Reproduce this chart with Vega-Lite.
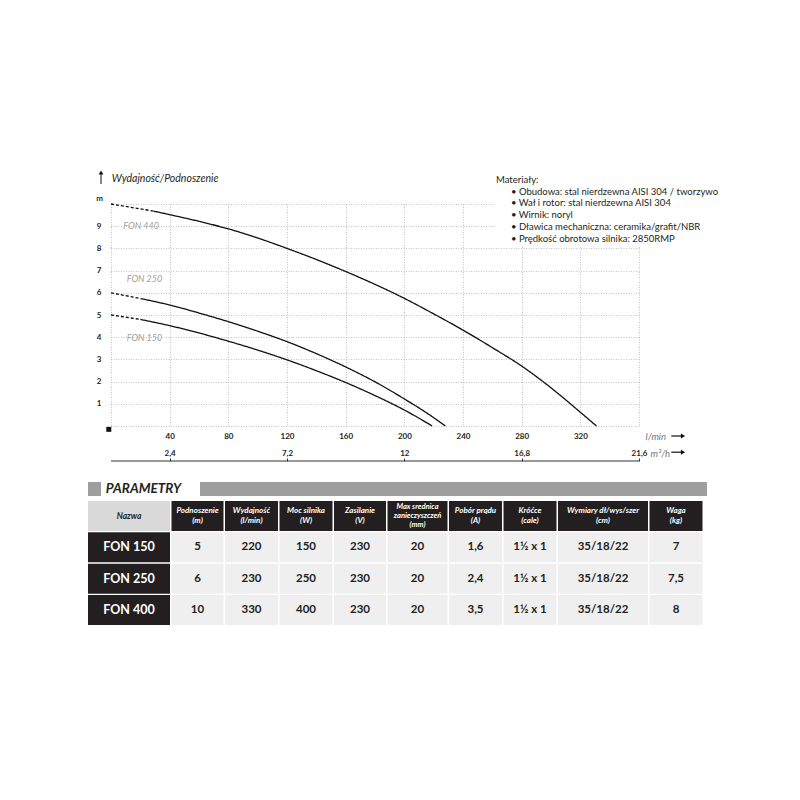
{
  "$schema": "https://vega.github.io/schema/vega-lite/v6.json",
  "background": "white",
  "padding": {"left": 88, "top": 170, "right": 0, "bottom": 0},
  "autosize": {"type": "pad"},
  "config": {
    "font": "Lato",
    "view": {"stroke": null}
  },
  "datasets": {
    "curves": [
      {"model": "FON 440", "seg": "dashed", "q": 0, "h": 10},
      {"model": "FON 440", "seg": "dashed", "q": 29, "h": 9.68},
      {"model": "FON 440", "seg": "solid", "q": 29, "h": 9.68},
      {"model": "FON 440", "seg": "solid", "q": 40, "h": 9.52},
      {"model": "FON 440", "seg": "solid", "q": 60, "h": 9.22},
      {"model": "FON 440", "seg": "solid", "q": 80, "h": 8.88},
      {"model": "FON 440", "seg": "solid", "q": 100, "h": 8.47},
      {"model": "FON 440", "seg": "solid", "q": 120, "h": 8.0},
      {"model": "FON 440", "seg": "solid", "q": 140, "h": 7.5},
      {"model": "FON 440", "seg": "solid", "q": 160, "h": 6.96},
      {"model": "FON 440", "seg": "solid", "q": 180, "h": 6.38},
      {"model": "FON 440", "seg": "solid", "q": 200, "h": 5.75},
      {"model": "FON 440", "seg": "solid", "q": 220, "h": 5.05},
      {"model": "FON 440", "seg": "solid", "q": 240, "h": 4.32},
      {"model": "FON 440", "seg": "solid", "q": 260, "h": 3.53},
      {"model": "FON 440", "seg": "solid", "q": 280, "h": 2.7},
      {"model": "FON 440", "seg": "solid", "q": 300, "h": 1.72},
      {"model": "FON 440", "seg": "solid", "q": 320, "h": 0.62},
      {"model": "FON 440", "seg": "solid", "q": 331, "h": 0},
      {"model": "FON 250", "seg": "dashed", "q": 0, "h": 6.0},
      {"model": "FON 250", "seg": "dashed", "q": 21, "h": 5.73},
      {"model": "FON 250", "seg": "solid", "q": 21, "h": 5.73},
      {"model": "FON 250", "seg": "solid", "q": 40, "h": 5.45},
      {"model": "FON 250", "seg": "solid", "q": 60, "h": 5.09},
      {"model": "FON 250", "seg": "solid", "q": 80, "h": 4.7},
      {"model": "FON 250", "seg": "solid", "q": 100, "h": 4.27},
      {"model": "FON 250", "seg": "solid", "q": 120, "h": 3.8},
      {"model": "FON 250", "seg": "solid", "q": 140, "h": 3.26},
      {"model": "FON 250", "seg": "solid", "q": 160, "h": 2.66},
      {"model": "FON 250", "seg": "solid", "q": 180, "h": 1.99},
      {"model": "FON 250", "seg": "solid", "q": 200, "h": 1.22},
      {"model": "FON 250", "seg": "solid", "q": 215, "h": 0.6},
      {"model": "FON 250", "seg": "solid", "q": 228, "h": 0},
      {"model": "FON 150", "seg": "dashed", "q": 0, "h": 5.0},
      {"model": "FON 150", "seg": "dashed", "q": 20, "h": 4.8},
      {"model": "FON 150", "seg": "solid", "q": 20, "h": 4.8},
      {"model": "FON 150", "seg": "solid", "q": 40, "h": 4.52},
      {"model": "FON 150", "seg": "solid", "q": 60, "h": 4.19},
      {"model": "FON 150", "seg": "solid", "q": 80, "h": 3.82},
      {"model": "FON 150", "seg": "solid", "q": 100, "h": 3.42},
      {"model": "FON 150", "seg": "solid", "q": 120, "h": 2.98},
      {"model": "FON 150", "seg": "solid", "q": 140, "h": 2.49},
      {"model": "FON 150", "seg": "solid", "q": 160, "h": 1.96},
      {"model": "FON 150", "seg": "solid", "q": 180, "h": 1.37},
      {"model": "FON 150", "seg": "solid", "q": 200, "h": 0.72},
      {"model": "FON 150", "seg": "solid", "q": 219, "h": 0}
    ],
    "labels": [
      {"name": "FON 440", "q": 8.4, "h": 9.02},
      {"name": "FON 250", "q": 10.7, "h": 6.62},
      {"name": "FON 150", "q": 10.7, "h": 3.98}
    ],
    "cells": [
      {"r": 0, "c": "Nazwa", "t": "Nazwa"},
      {"r": 0, "c": "Podnoszenie", "t": "Podnoszenie\n(m)"},
      {"r": 0, "c": "Wydajnosc", "t": "Wydajność\n(l/min)"},
      {"r": 0, "c": "Moc", "t": "Moc silnika\n(W)"},
      {"r": 0, "c": "Zasilanie", "t": "Zasilanie\n(V)"},
      {"r": 0, "c": "Srednica", "t": "Max srednica\nzanieczyszczeń\n(mm)"},
      {"r": 0, "c": "Pobor", "t": "Pobór prądu\n(A)"},
      {"r": 0, "c": "Krocce", "t": "Króćce\n(cale)"},
      {"r": 0, "c": "Wymiary", "t": "Wymiary dł/wys/szer\n(cm)"},
      {"r": 0, "c": "Waga", "t": "Waga\n(kg)"},
      {"r": 1, "c": "Nazwa", "t": "FON 150"},
      {"r": 1, "c": "Podnoszenie", "t": "5"},
      {"r": 1, "c": "Wydajnosc", "t": "220"},
      {"r": 1, "c": "Moc", "t": "150"},
      {"r": 1, "c": "Zasilanie", "t": "230"},
      {"r": 1, "c": "Srednica", "t": "20"},
      {"r": 1, "c": "Pobor", "t": "1,6"},
      {"r": 1, "c": "Krocce", "t": "1½ x 1"},
      {"r": 1, "c": "Wymiary", "t": "35/18/22"},
      {"r": 1, "c": "Waga", "t": "7"},
      {"r": 2, "c": "Nazwa", "t": "FON 250"},
      {"r": 2, "c": "Podnoszenie", "t": "6"},
      {"r": 2, "c": "Wydajnosc", "t": "230"},
      {"r": 2, "c": "Moc", "t": "250"},
      {"r": 2, "c": "Zasilanie", "t": "230"},
      {"r": 2, "c": "Srednica", "t": "20"},
      {"r": 2, "c": "Pobor", "t": "2,4"},
      {"r": 2, "c": "Krocce", "t": "1½ x 1"},
      {"r": 2, "c": "Wymiary", "t": "35/18/22"},
      {"r": 2, "c": "Waga", "t": "7,5"},
      {"r": 3, "c": "Nazwa", "t": "FON 400"},
      {"r": 3, "c": "Podnoszenie", "t": "10"},
      {"r": 3, "c": "Wydajnosc", "t": "330"},
      {"r": 3, "c": "Moc", "t": "400"},
      {"r": 3, "c": "Zasilanie", "t": "230"},
      {"r": 3, "c": "Srednica", "t": "20"},
      {"r": 3, "c": "Pobor", "t": "3,5"},
      {"r": 3, "c": "Krocce", "t": "1½ x 1"},
      {"r": 3, "c": "Wymiary", "t": "35/18/22"},
      {"r": 3, "c": "Waga", "t": "8"}
    ]
  },
  "spacing": 20,
  "vconcat": [
    {
      "width": 551,
      "height": 222,
      "resolve": {"axis": {"x": "independent", "y": "independent"}},
      "layer": [
        {
          "data": {"name": "curves"},
          "mark": {"type": "line", "interpolate": "monotone", "color": "#111111", "strokeWidth": 1.3},
          "encoding": {
            "x": {
              "field": "q", "type": "quantitative",
              "scale": {"domain": [-15.68, 360], "nice": false, "zero": false},
              "axis": {
                "values": [0, 40, 80, 120, 160, 200, 240, 280, 320, 360],
                "labelExpr": "datum.value == 0 || datum.value == 360 ? '' : datum.label",
                "grid": true, "gridDash": [1, 1.5], "gridColor": "#a9a9a9", "gridWidth": 0.7,
                "domain": false, "ticks": false, "labelPadding": 6,
                "labelFlush": false, "labelOverlap": false,
                "labelFontSize": 8, "labelFontWeight": "bold", "labelColor": "#231f20",
                "title": "l/min", "titleFontStyle": "italic", "titleFontWeight": "normal",
                "titleFontSize": 9.5, "titleColor": "#777777",
                "titleX": 557, "titleY": 10, "titleAlign": "left", "titleBaseline": "middle", "titleAngle": 0
              }
            },
            "y": {
              "field": "h", "type": "quantitative",
              "scale": {"domain": [0, 10], "nice": false, "zero": false},
              "axis": {
                "values": [0, 1, 2, 3, 4, 5, 6, 7, 8, 9, 10],
                "tickCount": 11,
                "grid": true, "gridDash": [1, 1.5], "gridColor": "#a9a9a9", "gridWidth": 0.7,
                "domain": false, "ticks": false, "labels": false, "title": null
              }
            },
            "detail": {"field": "model"},
            "strokeDash": {
              "field": "seg", "type": "nominal",
              "scale": {"domain": ["solid", "dashed"], "range": [[1, 0], [3, 2]]},
              "legend": null
            }
          }
        },
        {
          "data": {"values": [{}]},
          "mark": {"type": "rect", "fill": "white"},
          "encoding": {
            "x": {"datum": -15.68, "axis": null},
            "x2": {"datum": -0.35},
            "y": {"datum": -0.3, "axis": null},
            "y2": {"datum": 10.3}
          }
        },
        {
          "data": {"values": []},
          "mark": "rule",
          "encoding": {
            "x": {
              "field": "q", "type": "quantitative",
              "scale": {"domain": [-15.68, 360], "nice": false, "zero": false},
              "axis": {
                "orient": "bottom", "offset": 35,
                "values": [40, 120, 200, 280, 360],
                "labelExpr": "replace(format(datum.value * 0.06, '.1~f'), '.', ',')",
                "grid": false, "domain": false,
                "ticks": true, "tickSize": -3, "tickColor": "#333333",
                "labelPadding": -5, "labelBaseline": "middle",
                "labelFlush": false, "labelOverlap": false,
                "labelFontSize": 8, "labelFontWeight": "bold", "labelColor": "#231f20",
                "title": "m³/h", "titleFontStyle": "italic", "titleFontWeight": "normal",
                "titleFontSize": 9.5, "titleColor": "#777777",
                "titleX": 562, "titleY": -8, "titleAlign": "left", "titleBaseline": "middle", "titleAngle": 0
              }
            },
            "y": {
              "field": "h", "type": "quantitative",
              "scale": {"domain": [0, 10], "nice": false, "zero": false},
              "axis": {
                "orient": "left", "zindex": 1,
                "values": [1, 2, 3, 4, 5, 6, 7, 8, 9],
                "grid": false, "domain": false, "ticks": false,
                "labelPadding": -13, "labelFlush": false, "labelOverlap": false,
                "labelFontSize": 8, "labelFontWeight": "bold", "labelColor": "#231f20",
                "title": "m", "titleAngle": 0, "titleX": 11, "titleY": -6,
                "titleAlign": "center", "titleBaseline": "middle",
                "titleFontSize": 8, "titleFontWeight": "bold", "titleColor": "#231f20"
              }
            }
          }
        },
        {
          "data": {"values": [{}]},
          "mark": {"type": "rule", "color": "#333333", "strokeWidth": 1},
          "encoding": {
            "x": {"datum": 0, "axis": null},
            "x2": {"datum": 360},
            "y": {"datum": -1.577, "axis": null}
          }
        },
        {
          "data": {"name": "labels"},
          "mark": {"type": "text", "align": "left", "baseline": "middle", "fontStyle": "italic", "fontSize": 9, "color": "#a0a0a0"},
          "encoding": {
            "x": {"field": "q", "type": "quantitative", "axis": null},
            "y": {"field": "h", "type": "quantitative", "axis": null},
            "text": {"field": "name"}
          }
        },
        {
          "data": {"values": [{}]},
          "mark": {"type": "rect", "fill": "white"},
          "encoding": {
            "x": {"datum": 262.5, "axis": null},
            "x2": {"datum": 362},
            "y": {"datum": 8.1, "axis": null},
            "y2": {"datum": 10.1}
          }
        },
        {
          "data": {"values": [{}]},
          "mark": {"type": "text", "text": "Materiały:", "align": "left", "baseline": "middle", "fontSize": 9.5, "color": "#231f20"},
          "encoding": {
            "x": {"datum": 262.5, "axis": null},
            "y": {"datum": 11.08, "axis": null}
          }
        },
        {
          "data": {"values": [{}]},
          "mark": {
            "type": "text",
            "text": [
              "•  Obudowa: stal nierdzewna AISI 304 / tworzywo",
              "•  Wał i rotor: stal nierdzewna AISI 304",
              "•  Wirnik: noryl",
              "•  Dławica mechaniczna: ceramika/grafit/NBR",
              "•  Prędkość obrotowa silnika: 2850RMP"
            ],
            "align": "left", "baseline": "middle", "fontSize": 9.5, "lineHeight": 11.7, "color": "#231f20"
          },
          "encoding": {
            "x": {"datum": 272.7, "axis": null},
            "y": {"datum": 10.55, "axis": null}
          }
        },
        {
          "data": {"values": [{}]},
          "mark": {"type": "text", "text": "Wydajność/Podnoszenie", "align": "left", "baseline": "middle", "fontStyle": "italic", "fontSize": 10.5, "color": "#231f20"},
          "encoding": {
            "x": {"datum": 0.5, "axis": null},
            "y": {"datum": 11.11, "axis": null}
          }
        },
        {
          "data": {"values": [{}]},
          "mark": {"type": "rule", "color": "#111111", "strokeWidth": 1},
          "encoding": {
            "x": {"datum": -6.8, "axis": null},
            "y": {"datum": 10.9, "axis": null},
            "y2": {"datum": 11.35}
          }
        },
        {
          "data": {"values": [{}]},
          "mark": {"type": "point", "shape": "triangle-up", "filled": true, "size": 22, "color": "#111111", "opacity": 1},
          "encoding": {
            "x": {"datum": -6.8, "axis": null},
            "y": {"datum": 11.42, "axis": null}
          }
        },
        {
          "data": {"values": [{}]},
          "mark": {"type": "rule", "color": "#111111", "strokeWidth": 1.2},
          "encoding": {
            "x": {"datum": 382, "axis": null},
            "x2": {"datum": 389},
            "y": {"datum": -0.45, "axis": null}
          }
        },
        {
          "data": {"values": [{}]},
          "mark": {"type": "point", "shape": "triangle-right", "filled": true, "size": 24, "color": "#111111", "opacity": 1},
          "encoding": {
            "x": {"datum": 390, "axis": null},
            "y": {"datum": -0.45, "axis": null}
          }
        },
        {
          "data": {"values": [{}]},
          "mark": {"type": "rule", "color": "#111111", "strokeWidth": 1.2},
          "encoding": {
            "x": {"datum": 382, "axis": null},
            "x2": {"datum": 389},
            "y": {"datum": -1.18, "axis": null}
          }
        },
        {
          "data": {"values": [{}]},
          "mark": {"type": "point", "shape": "triangle-right", "filled": true, "size": 24, "color": "#111111", "opacity": 1},
          "encoding": {
            "x": {"datum": 390, "axis": null},
            "y": {"datum": -1.18, "axis": null}
          }
        },
        {
          "data": {"values": [{}]},
          "mark": {"type": "point", "shape": "square", "filled": true, "size": 25, "color": "#111111", "opacity": 1},
          "encoding": {
            "x": {"datum": -1.5, "axis": null},
            "y": {"datum": -0.15, "axis": null}
          }
        }
      ]
    },
    {
      "spacing": 5,
      "vconcat": [
        {
          "spacing": 18,
          "hconcat": [
            {
              "spacing": 4,
              "hconcat": [
                {"width": 13, "height": 14, "data": {"values": []}, "mark": "rect", "view": {"fill": "#9e9e9e", "stroke": null}},
                {
                  "width": 75, "height": 14,
                  "data": {"values": [{"t": "PARAMETRY"}]},
                  "mark": {"type": "text", "fontSize": 13.5, "fontWeight": "bold", "fontStyle": "italic", "color": "#231f20", "baseline": "middle"},
                  "encoding": {"text": {"field": "t"}}
                }
              ]
            },
            {"width": 507, "height": 14, "data": {"values": []}, "mark": "rect", "view": {"fill": "#9e9e9e", "stroke": null}}
          ]
        },
        {
          "data": {"name": "cells"},
          "spacing": 1.5,
          "hconcat": [
            {
              "width": 82, "height": 124,
              "transform": [{"filter": "datum.c == 'Nazwa'"}],
              "encoding": {"y": {"field": "r", "type": "ordinal", "axis": null, "scale": {"domain": [0, 1, 2, 3], "paddingInner": 0.04, "paddingOuter": 0}}},
              "layer": [
                {"mark": "rect", "encoding": {"color": {"condition": {"test": "datum.r == 0", "value": "#d9d9d9"}, "value": "#231f20"}}},
                {"transform": [{"filter": "datum.r == 0"}], "mark": {"type": "text", "fontSize": 8.5, "fontWeight": "bold", "fontStyle": "italic", "color": "#231f20"}, "encoding": {"text": {"field": "t"}}},
                {"transform": [{"filter": "datum.r > 0"}], "mark": {"type": "text", "fontSize": 12.5, "fontWeight": "bold", "color": "white"}, "encoding": {"text": {"field": "t"}}}
              ]
            },
            {
              "width": 52, "height": 124,
              "transform": [{"filter": "datum.c == 'Podnoszenie'"}],
              "encoding": {"y": {"field": "r", "type": "ordinal", "axis": null, "scale": {"domain": [0, 1, 2, 3], "paddingInner": 0.04, "paddingOuter": 0}}},
              "layer": [
                {"mark": "rect", "encoding": {"color": {"condition": {"test": "datum.r == 0", "value": "#231f20"}, "value": "#efefef"}}},
                {"transform": [{"filter": "datum.r == 0"}], "mark": {"type": "text", "fontSize": 8, "fontWeight": "bold", "fontStyle": "italic", "color": "white", "lineBreak": "\n", "lineHeight": 9.5, "dy": -4.75}, "encoding": {"text": {"field": "t"}}},
                {"transform": [{"filter": "datum.r > 0"}], "mark": {"type": "text", "fontSize": 11.5, "fontWeight": "bold", "color": "#231f20"}, "encoding": {"text": {"field": "t"}}}
              ]
            },
            {
              "width": 53, "height": 124,
              "transform": [{"filter": "datum.c == 'Wydajnosc'"}],
              "encoding": {"y": {"field": "r", "type": "ordinal", "axis": null, "scale": {"domain": [0, 1, 2, 3], "paddingInner": 0.04, "paddingOuter": 0}}},
              "layer": [
                {"mark": "rect", "encoding": {"color": {"condition": {"test": "datum.r == 0", "value": "#231f20"}, "value": "#efefef"}}},
                {"transform": [{"filter": "datum.r == 0"}], "mark": {"type": "text", "fontSize": 8, "fontWeight": "bold", "fontStyle": "italic", "color": "white", "lineBreak": "\n", "lineHeight": 9.5, "dy": -4.75}, "encoding": {"text": {"field": "t"}}},
                {"transform": [{"filter": "datum.r > 0"}], "mark": {"type": "text", "fontSize": 11.5, "fontWeight": "bold", "color": "#231f20"}, "encoding": {"text": {"field": "t"}}}
              ]
            },
            {
              "width": 53, "height": 124,
              "transform": [{"filter": "datum.c == 'Moc'"}],
              "encoding": {"y": {"field": "r", "type": "ordinal", "axis": null, "scale": {"domain": [0, 1, 2, 3], "paddingInner": 0.04, "paddingOuter": 0}}},
              "layer": [
                {"mark": "rect", "encoding": {"color": {"condition": {"test": "datum.r == 0", "value": "#231f20"}, "value": "#efefef"}}},
                {"transform": [{"filter": "datum.r == 0"}], "mark": {"type": "text", "fontSize": 8, "fontWeight": "bold", "fontStyle": "italic", "color": "white", "lineBreak": "\n", "lineHeight": 9.5, "dy": -4.75}, "encoding": {"text": {"field": "t"}}},
                {"transform": [{"filter": "datum.r > 0"}], "mark": {"type": "text", "fontSize": 11.5, "fontWeight": "bold", "color": "#231f20"}, "encoding": {"text": {"field": "t"}}}
              ]
            },
            {
              "width": 52, "height": 124,
              "transform": [{"filter": "datum.c == 'Zasilanie'"}],
              "encoding": {"y": {"field": "r", "type": "ordinal", "axis": null, "scale": {"domain": [0, 1, 2, 3], "paddingInner": 0.04, "paddingOuter": 0}}},
              "layer": [
                {"mark": "rect", "encoding": {"color": {"condition": {"test": "datum.r == 0", "value": "#231f20"}, "value": "#efefef"}}},
                {"transform": [{"filter": "datum.r == 0"}], "mark": {"type": "text", "fontSize": 8, "fontWeight": "bold", "fontStyle": "italic", "color": "white", "lineBreak": "\n", "lineHeight": 9.5, "dy": -4.75}, "encoding": {"text": {"field": "t"}}},
                {"transform": [{"filter": "datum.r > 0"}], "mark": {"type": "text", "fontSize": 11.5, "fontWeight": "bold", "color": "#231f20"}, "encoding": {"text": {"field": "t"}}}
              ]
            },
            {
              "width": 60, "height": 124,
              "transform": [{"filter": "datum.c == 'Srednica'"}],
              "encoding": {"y": {"field": "r", "type": "ordinal", "axis": null, "scale": {"domain": [0, 1, 2, 3], "paddingInner": 0.04, "paddingOuter": 0}}},
              "layer": [
                {"mark": "rect", "encoding": {"color": {"condition": {"test": "datum.r == 0", "value": "#231f20"}, "value": "#efefef"}}},
                {"transform": [{"filter": "datum.r == 0"}], "mark": {"type": "text", "fontSize": 7.5, "fontWeight": "bold", "fontStyle": "italic", "color": "white", "lineBreak": "\n", "lineHeight": 8.8, "dy": -8.8}, "encoding": {"text": {"field": "t"}}},
                {"transform": [{"filter": "datum.r > 0"}], "mark": {"type": "text", "fontSize": 11.5, "fontWeight": "bold", "color": "#231f20"}, "encoding": {"text": {"field": "t"}}}
              ]
            },
            {
              "width": 53, "height": 124,
              "transform": [{"filter": "datum.c == 'Pobor'"}],
              "encoding": {"y": {"field": "r", "type": "ordinal", "axis": null, "scale": {"domain": [0, 1, 2, 3], "paddingInner": 0.04, "paddingOuter": 0}}},
              "layer": [
                {"mark": "rect", "encoding": {"color": {"condition": {"test": "datum.r == 0", "value": "#231f20"}, "value": "#efefef"}}},
                {"transform": [{"filter": "datum.r == 0"}], "mark": {"type": "text", "fontSize": 8, "fontWeight": "bold", "fontStyle": "italic", "color": "white", "lineBreak": "\n", "lineHeight": 9.5, "dy": -4.75}, "encoding": {"text": {"field": "t"}}},
                {"transform": [{"filter": "datum.r > 0"}], "mark": {"type": "text", "fontSize": 11.5, "fontWeight": "bold", "color": "#231f20"}, "encoding": {"text": {"field": "t"}}}
              ]
            },
            {
              "width": 53, "height": 124,
              "transform": [{"filter": "datum.c == 'Krocce'"}],
              "encoding": {"y": {"field": "r", "type": "ordinal", "axis": null, "scale": {"domain": [0, 1, 2, 3], "paddingInner": 0.04, "paddingOuter": 0}}},
              "layer": [
                {"mark": "rect", "encoding": {"color": {"condition": {"test": "datum.r == 0", "value": "#231f20"}, "value": "#efefef"}}},
                {"transform": [{"filter": "datum.r == 0"}], "mark": {"type": "text", "fontSize": 8, "fontWeight": "bold", "fontStyle": "italic", "color": "white", "lineBreak": "\n", "lineHeight": 9.5, "dy": -4.75}, "encoding": {"text": {"field": "t"}}},
                {"transform": [{"filter": "datum.r > 0"}], "mark": {"type": "text", "fontSize": 11.5, "fontWeight": "bold", "color": "#231f20"}, "encoding": {"text": {"field": "t"}}}
              ]
            },
            {
              "width": 90, "height": 124,
              "transform": [{"filter": "datum.c == 'Wymiary'"}],
              "encoding": {"y": {"field": "r", "type": "ordinal", "axis": null, "scale": {"domain": [0, 1, 2, 3], "paddingInner": 0.04, "paddingOuter": 0}}},
              "layer": [
                {"mark": "rect", "encoding": {"color": {"condition": {"test": "datum.r == 0", "value": "#231f20"}, "value": "#efefef"}}},
                {"transform": [{"filter": "datum.r == 0"}], "mark": {"type": "text", "fontSize": 8, "fontWeight": "bold", "fontStyle": "italic", "color": "white", "lineBreak": "\n", "lineHeight": 9.5, "dy": -4.75}, "encoding": {"text": {"field": "t"}}},
                {"transform": [{"filter": "datum.r > 0"}], "mark": {"type": "text", "fontSize": 11.5, "fontWeight": "bold", "color": "#231f20"}, "encoding": {"text": {"field": "t"}}}
              ]
            },
            {
              "width": 53, "height": 124,
              "transform": [{"filter": "datum.c == 'Waga'"}],
              "encoding": {"y": {"field": "r", "type": "ordinal", "axis": null, "scale": {"domain": [0, 1, 2, 3], "paddingInner": 0.04, "paddingOuter": 0}}},
              "layer": [
                {"mark": "rect", "encoding": {"color": {"condition": {"test": "datum.r == 0", "value": "#231f20"}, "value": "#efefef"}}},
                {"transform": [{"filter": "datum.r == 0"}], "mark": {"type": "text", "fontSize": 8, "fontWeight": "bold", "fontStyle": "italic", "color": "white", "lineBreak": "\n", "lineHeight": 9.5, "dy": -4.75}, "encoding": {"text": {"field": "t"}}},
                {"transform": [{"filter": "datum.r > 0"}], "mark": {"type": "text", "fontSize": 11.5, "fontWeight": "bold", "color": "#231f20"}, "encoding": {"text": {"field": "t"}}}
              ]
            }
          ]
        }
      ]
    }
  ]
}
